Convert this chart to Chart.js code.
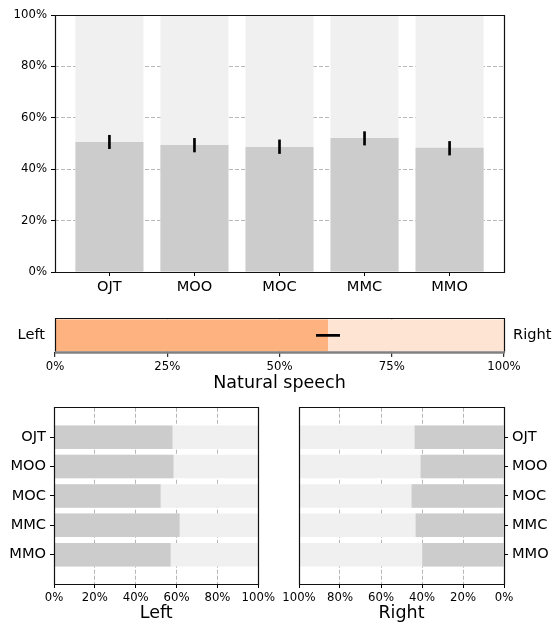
<!DOCTYPE html>
<html><head><meta charset="utf-8">
<script src="https://cdn.jsdelivr.net/npm/chart.js@4"></script>
<style>
html,body{margin:0;padding:0;background:#fff;width:555px;height:624px;overflow:hidden}
.box{position:absolute}
</style></head><body>
<div class="box" style="left:0;top:0;width:555px;height:300px"><canvas id="c1" width="555" height="300"></canvas></div>
<div class="box" style="left:0;top:300px;width:555px;height:94px"><canvas id="c2" width="555" height="94"></canvas></div>
<div class="box" style="left:0;top:395px;width:278px;height:229px"><canvas id="c3" width="278" height="229"></canvas></div>
<div class="box" style="left:278px;top:395px;width:277px;height:229px"><canvas id="c4" width="277" height="229"></canvas></div>
<script>
// ---- data ----
const systems = ['OJT', 'MOO', 'MOC', 'MMC', 'MMO'];
const overallLeft = [0.506, 0.494, 0.486, 0.521, 0.483];
const overallErrLow = [0.480, 0.467, 0.461, 0.494, 0.455];
const overallErrHigh = [0.532, 0.520, 0.514, 0.546, 0.508];
const naturalLeft = 0.608;
const naturalErr = [0.582, 0.634];
const leftChoice = [0.580, 0.585, 0.522, 0.615, 0.571];
const rightChoice = [0.436, 0.407, 0.451, 0.431, 0.399];
const sideLabels = ['Left', 'Right'];
const naturalTitle = 'Natural speech';

// ---- style ----
const FONT = 'DejaVu Sans';
Chart.defaults.font.family = FONT;
Chart.defaults.color = '#000';
const DARK = '#cccccc', LIGHT = '#f0f0f0';
const ORANGE = '#fdb27f', PEACH = '#fee5d3';
const tickFont = {family: FONT, size: 11.7};
const catFont = {family: FONT, size: 14.6};
const titleFont = {family: FONT, size: 17.5};
const pct = v => Math.round(v * 100) + '%';
const innerGrid = color => c => (c.tick && (c.tick.value <= 0 || c.tick.value >= 1)) ? 'rgba(0,0,0,0)' : color;

const framePlugin = {
  id: 'frame',
  afterDraw(chart, args, opts) {
    const {ctx, chartArea: a} = chart;
    const L = Math.floor(a.left) + 0.5, R = Math.floor(a.right) + 0.5;
    const T = Math.floor(a.top) + 0.5, B = Math.floor(a.bottom) + 0.5;
    ctx.save();
    ctx.strokeStyle = '#111';
    ctx.lineWidth = 1.2;
    ctx.beginPath();
    ctx.moveTo(L, B); ctx.lineTo(L, T); ctx.lineTo(R, T); ctx.lineTo(R, B);
    if (!opts.bottomColor) ctx.closePath();
    ctx.stroke();
    if (opts.bottomColor) {
      ctx.strokeStyle = opts.bottomColor;
      ctx.lineWidth = 2.5;
      ctx.beginPath();
      ctx.moveTo(L - 0.5, B); ctx.lineTo(R + 0.5, B);
      ctx.stroke();
    }
    ctx.restore();
  }
};

const idxTicks = s => { s.ticks = systems.map((_, i) => ({value: i})); };

// ---- top chart: overall left preference ----
new Chart(document.getElementById('c1'), {
  type: 'bar',
  data: {
    datasets: [
      {data: systems.map((_, i) => ({x: i, y: [overallErrLow[i], overallErrHigh[i]]})),
       backgroundColor: '#000', barThickness: 2, grouped: false, order: 0},
      {data: systems.map((_, i) => ({x: i, y: overallLeft[i]})),
       backgroundColor: DARK, grouped: false, order: 1, barPercentage: 0.8, categoryPercentage: 1},
      {data: systems.map((_, i) => ({x: i, y: 1})),
       backgroundColor: LIGHT, grouped: false, order: 2, barPercentage: 0.8, categoryPercentage: 1}
    ]
  },
  options: {
    responsive: false, animation: false,
    layout: {padding: {top: 15, right: 51, left: 0, bottom: 0}},
    plugins: {legend: {display: false}, tooltip: {enabled: false}, frame: {}},
    scales: {
      x: {
        type: 'linear', min: -0.64, max: 4.64, offset: false,
        afterBuildTicks: idxTicks,
        afterFit: s => { s.height = 28; },
        ticks: {callback: v => systems[v], font: catFont, padding: 2, autoSkip: false, maxRotation: 0},
        grid: {offset: false, drawOnChartArea: false, tickLength: 4, tickColor: '#000', tickWidth: 1},
        border: {display: false}
      },
      y: {
        min: 0, max: 1,
        afterBuildTicks: s => { s.ticks = [0, 0.2, 0.4, 0.6, 0.8, 1].map(v => ({value: v})); },
        afterFit: s => { s.width = 55; },
        ticks: {callback: pct, font: tickFont, padding: 4},
        grid: {color: innerGrid('rgba(160,160,160,0.75)'), lineWidth: 1, tickLength: 4, tickColor: '#000', tickWidth: 1, tickBorderDash: []},
        border: {display: false, dash: [4, 2]}
      }
    }
  },
  plugins: [framePlugin]
});

// ---- middle chart: natural speech ----
new Chart(document.getElementById('c2'), {
  type: 'bar',
  data: {
    datasets: [
      {data: [{x: naturalErr, y: 0}], backgroundColor: '#000', barThickness: 2, grouped: false, order: 0},
      {data: [{x: naturalLeft, y: 0}], backgroundColor: ORANGE, grouped: false, order: 1, barPercentage: 0.95, categoryPercentage: 1},
      {data: [{x: 1, y: 0}], backgroundColor: PEACH, grouped: false, order: 2, barPercentage: 0.95, categoryPercentage: 1}
    ]
  },
  options: {
    indexAxis: 'y',
    responsive: false, animation: false,
    layout: {padding: {top: 13.5, right: 0, left: 0, bottom: 0}},
    plugins: {legend: {display: false}, tooltip: {enabled: false}, frame: {bottomColor: '#808080'}},
    scales: {
      x: {
        type: 'linear', min: 0, max: 1, z: 1,
        afterBuildTicks: s => { s.ticks = [0, 0.25, 0.5, 0.75, 1].map(v => ({value: v})); },
        afterFit: s => { s.height = 42; },
        ticks: {callback: pct, font: tickFont, padding: 3, autoSkip: false, maxRotation: 0},
        grid: {color: innerGrid('rgba(150,150,150,0.75)'), lineWidth: 1.4, tickLength: 5, tickColor: '#000', tickWidth: 1},
        border: {display: false},
        title: {display: true, text: naturalTitle, font: titleFont, padding: {top: 0, bottom: 0}}
      },
      y: {
        type: 'linear', min: -0.5, max: 0.5, position: 'left', offset: false,
        afterBuildTicks: s => { s.ticks = [{value: 0}]; },
        afterFit: s => { s.width = 55; },
        ticks: {callback: () => sideLabels[0], font: catFont, padding: 10},
        grid: {display: false, drawTicks: false, offset: false},
        border: {display: false}
      },
      y2: {
        type: 'linear', min: -0.5, max: 0.5, position: 'right', offset: false,
        afterBuildTicks: s => { s.ticks = [{value: 0}]; },
        afterFit: s => { s.width = 51; },
        ticks: {callback: () => sideLabels[1], font: catFont, padding: 9},
        grid: {display: false, drawTicks: false, offset: false},
        border: {display: false}
      }
    }
  },
  plugins: [framePlugin]
});

// ---- bottom charts ----
function sideChart(id, values, side) {
  const isLeft = side === 'left';
  return new Chart(document.getElementById(id), {
    type: 'bar',
    data: {
      datasets: [
        {data: systems.map((_, i) => ({y: i, x: values[i]})),
         backgroundColor: DARK, grouped: false, order: 1, barPercentage: 0.8, categoryPercentage: 1},
        {data: systems.map((_, i) => ({y: i, x: 1})),
         backgroundColor: LIGHT, grouped: false, order: 2, barPercentage: 0.8, categoryPercentage: 1}
      ]
    },
    options: {
      indexAxis: 'y',
      responsive: false, animation: false,
      layout: {padding: {top: 11, right: isLeft ? 19 : 0, left: isLeft ? 0 : 21, bottom: 0}},
      plugins: {legend: {display: false}, tooltip: {enabled: false}, frame: {}},
      scales: {
        x: {
          type: 'linear', min: 0, max: 1, reverse: !isLeft, z: 1,
          afterBuildTicks: s => { s.ticks = [0, 0.2, 0.4, 0.6, 0.8, 1].map(v => ({value: v})); },
          afterFit: s => { s.height = 40; },
          ticks: {callback: pct, font: tickFont, padding: 3, autoSkip: false, maxRotation: 0},
          grid: {color: innerGrid('rgba(150,150,150,0.7)'), lineWidth: 1, tickLength: 4, tickColor: '#000', tickWidth: 1, tickBorderDash: []},
          border: {display: false, dash: [4, 2]},
          title: {display: true, text: sideLabels[isLeft ? 0 : 1], font: titleFont, padding: {top: 0, bottom: 0}}
        },
        y: {
          type: 'linear', min: -1, max: 5, reverse: true, position: isLeft ? 'left' : 'right', offset: false,
          afterBuildTicks: idxTicks,
          afterFit: s => { s.width = isLeft ? 54 : 51; },
          ticks: {callback: v => systems[v], font: catFont, padding: 4, autoSkip: false},
          grid: {offset: false, drawOnChartArea: false, tickLength: 4, tickColor: '#000', tickWidth: 1},
          border: {display: false}
        }
      }
    },
    plugins: [framePlugin]
  });
}
sideChart('c3', leftChoice, 'left');
sideChart('c4', rightChoice, 'right');
</script>
</body></html>
